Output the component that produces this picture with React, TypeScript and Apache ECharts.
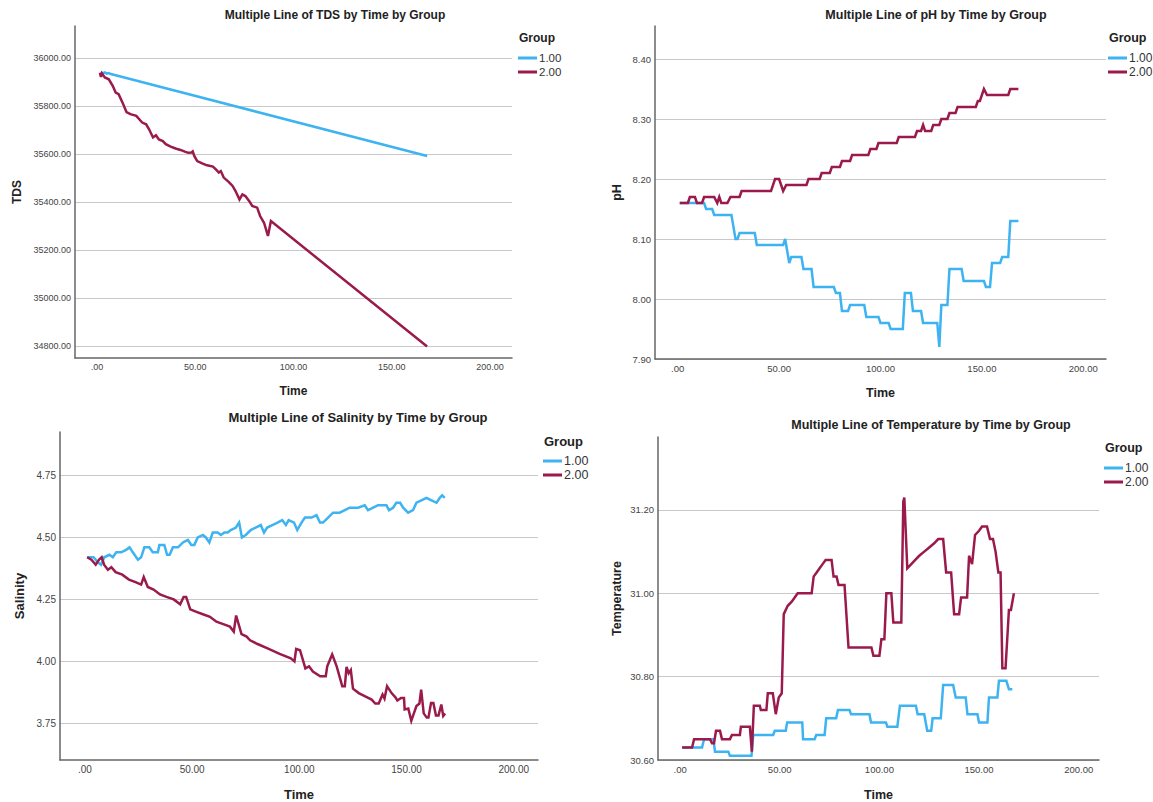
import React, { useEffect, useRef } from "react";
import * as echarts from "echarts";

type Pt = [number, number];

const xTicks = [0, 50, 100, 150, 200];
const tdsTicks = [34800, 35000, 35200, 35400, 35600, 35800, 36000];
const phTicks = [7.9, 8.0, 8.1, 8.2, 8.3, 8.4];
const salTicks = [3.75, 4.0, 4.25, 4.5, 4.75];
const tempTicks = [30.6, 30.8, 31.0, 31.2];
const groups = ["1.00", "2.00"];

const tdsG1: Pt[] = [[2, 35940], [3, 35938], [4, 35941], [5, 35936], [6, 35938], [7, 35934], [8, 35932], [168, 35593]];
const tdsG2: Pt[] = [[1.5, 35940], [2, 35922], [2.5, 35937], [4, 35920], [6, 35912], [8, 35885], [9.5, 35857], [11, 35850], [13, 35815], [15, 35776], [17, 35767], [20, 35760], [21.5, 35746], [23, 35732], [25, 35725], [26.5, 35704], [28.5, 35670], [30, 35679], [31.5, 35662], [33.5, 35655], [35, 35642], [37.5, 35632], [40, 35624], [42.5, 35618], [45, 35610], [46.5, 35606], [48, 35607], [48.7, 35612], [49.5, 35593], [51, 35572], [53.5, 35562], [56, 35554], [59, 35549], [60.5, 35537], [62, 35524], [63, 35530], [64.5, 35503], [67, 35485], [69, 35468], [70.5, 35447], [72.5, 35412], [74, 35433], [75.5, 35426], [77.5, 35405], [79, 35385], [81.5, 35378], [83, 35343], [85, 35315], [87, 35260], [88.5, 35322], [168, 34800]];

const phG1: Pt[] = [[1, 8.16], [13, 8.16], [14, 8.15], [17, 8.15], [18, 8.14], [26.5, 8.14], [28.5, 8.10], [29.5, 8.10], [30.5, 8.11], [38, 8.11], [39, 8.09], [52, 8.09], [53, 8.10], [54, 8.08], [55, 8.06], [56, 8.07], [61, 8.07], [62, 8.05], [66, 8.05], [67, 8.02], [77, 8.02], [78, 8.01], [80, 8.01], [81, 7.98], [84, 7.98], [85, 7.99], [92, 7.99], [93, 7.97], [99, 7.97], [100, 7.96], [104, 7.96], [105, 7.95], [111, 7.95], [112, 8.01], [115, 8.01], [116, 7.98], [120, 7.98], [121, 7.96], [128, 7.96], [129, 7.92], [130, 7.99], [133, 7.99], [134, 8.05], [140, 8.05], [141, 8.03], [151, 8.03], [152, 8.02], [154, 8.02], [155, 8.06], [159, 8.06], [160, 8.07], [163, 8.07], [164, 8.13], [168, 8.13]];
const phG2: Pt[] = [[1, 8.16], [5, 8.16], [6, 8.17], [8.5, 8.17], [9.5, 8.16], [12, 8.16], [13, 8.17], [18, 8.17], [19.5, 8.16], [20.5, 8.17], [21.5, 8.16], [24.5, 8.16], [26, 8.17], [30.5, 8.17], [31.5, 8.18], [46, 8.18], [48, 8.20], [50, 8.20], [52, 8.18], [53.5, 8.19], [63.5, 8.19], [64.5, 8.20], [70, 8.20], [71, 8.21], [75, 8.21], [76, 8.22], [80, 8.22], [81, 8.23], [85, 8.23], [86, 8.24], [94, 8.24], [95, 8.25], [98, 8.25], [99, 8.26], [108, 8.26], [109, 8.27], [117, 8.27], [118, 8.28], [120, 8.28], [121, 8.29], [122, 8.28], [125, 8.28], [126, 8.29], [129, 8.29], [130, 8.30], [133, 8.30], [134, 8.31], [137, 8.31], [138, 8.32], [147, 8.32], [148, 8.33], [149, 8.33], [151, 8.35], [152.5, 8.34], [163, 8.34], [164, 8.35], [168, 8.35]];

const salG1: Pt[] = [[1, 4.42], [4, 4.42], [6, 4.40], [7.5, 4.39], [9, 4.42], [11.4, 4.43], [13, 4.42], [14.6, 4.44], [16.9, 4.44], [19.2, 4.45], [20.8, 4.46], [22.3, 4.44], [24.7, 4.41], [26.2, 4.42], [27.7, 4.46], [30, 4.46], [31.6, 4.44], [34, 4.44], [34.7, 4.47], [37, 4.47], [38.3, 4.43], [39.5, 4.43], [41, 4.46], [43.4, 4.46], [45.7, 4.48], [48, 4.49], [49.6, 4.47], [51, 4.47], [52.6, 4.50], [55, 4.51], [56.4, 4.50], [58, 4.48], [59.6, 4.52], [61.9, 4.52], [63.4, 4.51], [65, 4.52], [66.6, 4.52], [68, 4.53], [70.4, 4.54], [71.9, 4.56], [73.2, 4.50], [75, 4.51], [77.3, 4.53], [79.6, 4.54], [82, 4.55], [83.5, 4.52], [85, 4.54], [87.4, 4.55], [89.8, 4.56], [92, 4.57], [93.7, 4.55], [95, 4.57], [97.5, 4.56], [99, 4.53], [101, 4.56], [102.6, 4.58], [105.7, 4.58], [108, 4.59], [109.6, 4.56], [111, 4.56], [113.4, 4.58], [115.7, 4.60], [117.3, 4.60], [118.8, 4.60], [121.2, 4.61], [123.5, 4.62], [127.4, 4.62], [130.5, 4.63], [132, 4.61], [134.4, 4.62], [136.7, 4.63], [140.6, 4.63], [141.8, 4.61], [143.7, 4.62], [145.2, 4.64], [147, 4.64], [148.4, 4.62], [150.7, 4.60], [153, 4.61], [154.6, 4.64], [156.9, 4.65], [159.3, 4.66], [161.6, 4.65], [164, 4.64], [165.5, 4.66], [166.6, 4.67], [167.8, 4.66]];
const salG2: Pt[] = [[1, 4.42], [3, 4.41], [5, 4.39], [6.5, 4.41], [7.8, 4.42], [8.9, 4.39], [10.7, 4.37], [12.3, 4.38], [14.3, 4.36], [17.4, 4.35], [20.5, 4.33], [23.6, 4.32], [26.2, 4.31], [27.4, 4.34], [29.3, 4.30], [32, 4.29], [35, 4.27], [38, 4.26], [41.4, 4.25], [44.4, 4.23], [46, 4.26], [47.2, 4.26], [49.1, 4.21], [52, 4.20], [55, 4.19], [58.3, 4.18], [61.3, 4.16], [64.5, 4.15], [67.6, 4.14], [69.4, 4.12], [70.5, 4.185], [73, 4.11], [75.4, 4.10], [77, 4.085], [80.5, 4.07], [85.7, 4.05], [90.8, 4.03], [96, 4.012], [97.7, 4.00], [98.5, 4.05], [100.3, 4.045], [102.8, 3.972], [104.5, 3.98], [106.3, 3.959], [109.7, 3.94], [112.3, 3.94], [113, 3.98], [115.3, 4.028], [117.4, 3.98], [120, 3.90], [121.2, 3.90], [122, 3.978], [123, 3.952], [124, 3.965], [125, 3.89], [127.7, 3.872], [130, 3.862], [133.7, 3.846], [135.4, 3.83], [137, 3.83], [138.8, 3.866], [139.7, 3.85], [140.9, 3.90], [143, 3.872], [144.8, 3.855], [145.7, 3.842], [147.4, 3.852], [148.8, 3.852], [149.1, 3.806], [150.8, 3.81], [152.2, 3.76], [153.4, 3.79], [154.6, 3.82], [156, 3.83], [156.8, 3.886], [158, 3.79], [159.4, 3.773], [160.2, 3.773], [161.4, 3.832], [162.5, 3.832], [163.7, 3.782], [164.9, 3.782], [166.2, 3.826], [167.1, 3.78], [168, 3.79]];

const tempG1: Pt[] = [[1, 30.63], [11, 30.63], [12, 30.65], [16.7, 30.65], [17.5, 30.62], [24.2, 30.62], [25, 30.61], [35.8, 30.61], [36.7, 30.66], [46.7, 30.66], [47.5, 30.67], [53, 30.67], [53.7, 30.69], [61.3, 30.69], [61.7, 30.65], [67.5, 30.65], [68.3, 30.66], [72.5, 30.66], [73.3, 30.70], [78.3, 30.70], [79.2, 30.72], [85, 30.72], [85.8, 30.71], [95, 30.71], [95.8, 30.69], [103.3, 30.69], [104, 30.68], [109, 30.68], [110.3, 30.73], [118.3, 30.73], [119.2, 30.71], [122.5, 30.71], [124, 30.67], [126, 30.67], [126.7, 30.70], [130.8, 30.70], [132, 30.78], [137, 30.78], [138.3, 30.75], [143.3, 30.75], [144.2, 30.71], [149.2, 30.71], [150, 30.69], [154.2, 30.69], [155, 30.75], [159.2, 30.75], [160, 30.79], [163.7, 30.79], [165, 30.77], [166.7, 30.77]];
const tempG2: Pt[] = [[1, 30.63], [6, 30.63], [7, 30.65], [15, 30.65], [16, 30.64], [17, 30.64], [18, 30.67], [20, 30.67], [21, 30.65], [25, 30.65], [26, 30.66], [30, 30.66], [30.5, 30.68], [35, 30.68], [36, 30.62], [37, 30.73], [40, 30.73], [40.5, 30.72], [43.3, 30.72], [44, 30.76], [46.5, 30.76], [48, 30.71], [49.5, 30.75], [51, 30.76], [52, 30.95], [54, 30.97], [56, 30.98], [57.5, 30.99], [59, 31.00], [66, 31.00], [67, 31.04], [68.5, 31.05], [70, 31.06], [71.5, 31.07], [73, 31.08], [76, 31.08], [77, 31.04], [78.5, 31.04], [79.5, 31.02], [82.5, 31.02], [84.5, 30.87], [96, 30.87], [97, 30.85], [100, 30.85], [101, 30.89], [102.5, 30.89], [103.5, 31.00], [106, 31.00], [107, 30.93], [111, 30.93], [112, 31.22], [112.5, 31.23], [114, 31.06], [116, 31.07], [118, 31.08], [120, 31.09], [122.5, 31.10], [125, 31.11], [127.5, 31.12], [129.5, 31.13], [132, 31.13], [133.5, 31.05], [136, 31.05], [137.5, 30.95], [140, 30.95], [141, 30.99], [144, 30.99], [145, 31.09], [146.5, 31.07], [148, 31.14], [150, 31.15], [151.5, 31.16], [154, 31.16], [155.5, 31.13], [157, 31.13], [158.3, 31.10], [159.7, 31.05], [160.8, 31.05], [161.7, 30.82], [163.3, 30.82], [165, 30.96], [166, 30.96], [167.5, 31.00]];

const BLUE = "#3db3f1";
const RED = "#9a1b4b";
const FONT = "'Liberation Sans', Arial, sans-serif";

type Panel = {
  title: string; yName: string; g1: Pt[]; g2: Pt[]; yTicks: number[];
  yMin: number; yMax: number; xMin: number; xMax: number;
  grid: { left: number; top: number; width: number; height: number };
  fs: number; tfs: number; titleX: number; titleY: number;
  yGap: number; xGap: number; legX: number; legY: number;
};

const panels: Panel[] = [
  { title: "Multiple Line of TDS by Time by Group", yName: "TDS", g1: tdsG1, g2: tdsG2, yTicks: tdsTicks, yMin: 34752, yMax: 36134, xMin: -11.2, xMax: 211.2, grid: { left: 75, top: 26, width: 437, height: 332 }, fs: 12, tfs: 9, titleX: 335, titleY: 15, yGap: 52, xGap: 27, legX: 518, legY: 38 },
  { title: "Multiple Line of pH by Time by Group", yName: "pH", g1: phG1, g2: phG2, yTicks: phTicks, yMin: 7.9, yMax: 8.455, xMin: -11.2, xMax: 211.2, grid: { left: 655, top: 26, width: 451, height: 333 }, fs: 12.5, tfs: 9.5, titleX: 936, titleY: 15, yGap: 32, xGap: 27, legX: 1108, legY: 38 },
  { title: "Multiple Line of Salinity by Time by Group", yName: "Salinity", g1: salG1, g2: salG2, yTicks: salTicks, yMin: 3.602, yMax: 4.9255, xMin: -11.65, xMax: 211.3, grid: { left: 60, top: 432, width: 478, height: 329 }, fs: 13, tfs: 10, titleX: 358, titleY: 417, yGap: 34, xGap: 28, legX: 543, legY: 441 },
  { title: "Multiple Line of Temperature by Time by Group", yName: "Temperature", g1: tempG1, g2: tempG2, yTicks: tempTicks, yMin: 30.6, yMax: 31.375, xMin: -11.1, xMax: 210.2, grid: { left: 658, top: 437, width: 441, height: 325 }, fs: 12.5, tfs: 9.5, titleX: 931, titleY: 425, yGap: 35, xGap: 28, legX: 1104, legY: 448 },
];

const fmtX = (v: number) => (v === 0 ? ".00" : v.toFixed(2));
const fmtY = (v: number) => v.toFixed(2);

function buildOption() {
  const grid: any[] = [];
  const xAxis: any[] = [];
  const yAxis: any[] = [];
  const series: any[] = [];
  const legend: any[] = [];
  const graphic: any[] = [];
  panels.forEach((p, i) => {
    grid.push({ ...p.grid, containLabel: false });
    xAxis.push({
      type: "value", gridIndex: i, min: p.xMin, max: p.xMax,
      name: "Time", nameLocation: "middle", nameGap: p.xGap,
      nameTextStyle: { fontWeight: "bold", fontSize: p.fs, color: "#222", fontFamily: FONT },
      axisLine: { show: true, onZero: false, lineStyle: { color: "#666", width: 1.5 } },
      axisTick: { show: false, customValues: xTicks },
      axisLabel: { customValues: xTicks, formatter: fmtX, fontSize: p.tfs, color: "#444", margin: 4, fontFamily: FONT },
      splitLine: { show: false },
    });
    yAxis.push({
      type: "value", gridIndex: i, min: p.yMin, max: p.yMax,
      name: p.yName, nameLocation: "middle", nameGap: p.yGap,
      nameTextStyle: { fontWeight: "bold", fontSize: p.fs, color: "#222", fontFamily: FONT },
      axisLine: { show: true, onZero: false, lineStyle: { color: "#666", width: 1.5 } },
      axisTick: { show: false, customValues: p.yTicks },
      axisLabel: { customValues: p.yTicks, formatter: fmtY, fontSize: p.tfs, color: "#444", margin: 4, fontFamily: FONT },
      splitLine: { show: true, lineStyle: { color: "#c8c8c8", width: 1 } },
    });
    [p.g1, p.g2].forEach((d, g) => {
      series.push({
        type: "line", name: groups[g], xAxisIndex: i, yAxisIndex: i, data: d,
        showSymbol: false, symbol: "none", z: 2 + g,
        lineStyle: { width: 2.5, color: g === 0 ? BLUE : RED, join: "miter" },
        itemStyle: { color: g === 0 ? BLUE : RED },
      });
    });
    legend.push({
      data: groups, orient: "vertical", left: p.legX, top: p.legY + 13,
      icon: "rect", itemWidth: 19, itemHeight: 3, itemGap: 0, selectedMode: false,
      padding: 0,
      textStyle: { fontSize: p.fs - 0.5, color: "#333", lineHeight: 14, fontFamily: FONT, padding: [0, 0, 0, -3] },
    });
    graphic.push({
      type: "text", x: p.titleX, y: p.titleY,
      style: { text: p.title, align: "center", verticalAlign: "middle", font: `bold ${p.fs}px ${FONT}`, fill: "#222" },
    });
    graphic.push({
      type: "text", x: p.legX + 1, y: p.legY,
      style: { text: "Group", align: "left", verticalAlign: "middle", font: `bold ${p.fs}px ${FONT}`, fill: "#222" },
    });
  });
  return { animation: false, backgroundColor: "#fff", grid, xAxis, yAxis, series, legend, graphic };
}

export default function App() {
  const ref = useRef<HTMLDivElement>(null);
  useEffect(() => {
    if (!ref.current) return;
    const chart = echarts.init(ref.current, undefined, { renderer: "svg" });
    chart.setOption(buildOption() as any);
    return () => chart.dispose();
  }, []);
  return <div ref={ref} style={{ position: "absolute", left: 0, top: 0, width: 1153, height: 802, background: "#fff" }} />;
}
